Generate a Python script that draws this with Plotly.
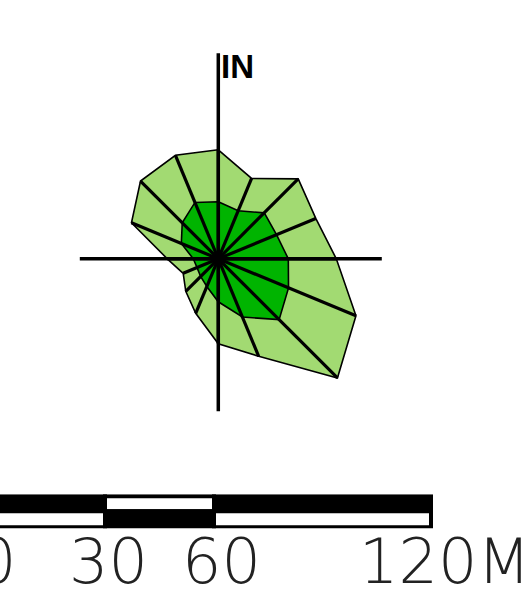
import plotly.graph_objects as go

# compass sectors, clockwise from north
directions = ["N", "NNE", "NE", "ENE", "E", "ESE", "SE", "SSE",
              "S", "SSW", "SW", "WSW", "W", "WNW", "NW", "NNW"]
outer_radius = [109, 87, 113, 105.5, 118, 149, 168.5, 105.5,
                85, 59, 46, 38, 51, 94, 110, 112]
inner_radius = [57, 52, 65, 63, 70, 76, 86, 63,
                43, 30, 25, 23, 25, 40, 51, 61]

# length of the cross arms, same units as the radii
cross_arms = {"N": 205.5, "E": 163.5, "S": 152.5, "W": 138.5}
north_label = "\u200aIN"

# scale bar (metres)
scale_breaks = [0, 30, 60, 120]
scale_labels = ["0", "30", "60", "120M"]

LIGHT = "#a2da72"
DARK = "#00b400"

fig = go.Figure()


def closed(vals):
    return list(vals) + [vals[0]]


fig.add_trace(go.Scatterpolar(
    r=closed(outer_radius), theta=closed(directions),
    mode="lines", fill="toself", fillcolor=LIGHT,
    line=dict(color="black", width=1.6), hoverinfo="skip",
))
fig.add_trace(go.Scatterpolar(
    r=closed(inner_radius), theta=closed(directions),
    mode="lines", fill="toself", fillcolor=DARK,
    line=dict(color="black", width=1.6), hoverinfo="skip",
))

spoke_r, spoke_t = [], []
for d, r in zip(directions, outer_radius):
    spoke_r += [0, r, None]
    spoke_t += [d, d, None]
fig.add_trace(go.Scatterpolar(
    r=spoke_r, theta=spoke_t, mode="lines",
    line=dict(color="black", width=3.2), hoverinfo="skip",
))

for a, b in (("N", "S"), ("W", "E")):
    fig.add_trace(go.Scatterpolar(
        r=[cross_arms[a], 0, cross_arms[b]], theta=[a, a, b], mode="lines",
        line=dict(color="black", width=3.5), hoverinfo="skip",
    ))

fig.add_trace(go.Scatterpolar(
    r=[cross_arms["N"]], theta=["N"], mode="text", text=[north_label],
    textposition="bottom right",
    textfont=dict(family="Liberation Sans", size=33, color="black", weight="bold"),
    hoverinfo="skip",
))

# scale bar: two rows of alternating cells
top_colors = ["black", "white", "black"]
bottom_colors = ["white", "black", "white"]
seg_base = scale_breaks[:-1]
seg_len = [b - a for a, b in zip(scale_breaks[:-1], scale_breaks[1:])]
fig.add_trace(go.Bar(
    orientation="h",
    y=[1] * len(seg_base) + [0] * len(seg_base),
    x=seg_len + seg_len,
    base=seg_base + seg_base,
    width=1,
    marker=dict(color=top_colors + bottom_colors,
                line=dict(color="black", width=4)),
    hoverinfo="skip",
))
# invisible carrier for the label axis
fig.add_trace(go.Scatter(
    x=scale_breaks, y=[0.5] * len(scale_breaks), xaxis="x2", yaxis="y2",
    mode="markers", marker=dict(opacity=0), hoverinfo="skip",
))

for m, lbl in zip(scale_breaks, scale_labels):
    fig.add_annotation(
        x=m, y=0.5, xref="x2", yref="y2", text=lbl, showarrow=False,
        xshift=-8,
        font=dict(family="DejaVu Sans", size=62, color="#222", weight=200),
    )

fig.update_layout(
    width=532,
    height=609,
    margin=dict(l=0, r=0, t=0, b=0),
    paper_bgcolor="white",
    plot_bgcolor="rgba(0,0,0,0)",
    showlegend=False,
    polar=dict(
        domain=dict(x=[3.3 / 532, 433.3 / 532], y=[135.2 / 609, 565.2 / 609]),
        bgcolor="rgba(0,0,0,0)",
        radialaxis=dict(range=[0, 215], visible=False),
        angularaxis=dict(
            type="category", categoryarray=directions,
            rotation=90, direction="clockwise",
            visible=False,
        ),
    ),
    xaxis=dict(
        domain=[0, 1], range=[1.02, 147.86],
        showgrid=False, zeroline=False, showticklabels=False, showline=False,
    ),
    yaxis=dict(
        domain=[0.1324, 0.1884], range=[-0.6, 1.6],
        showgrid=False, zeroline=False, showticklabels=False, showline=False,
    ),
    xaxis2=dict(
        domain=[0, 1], anchor="y2", range=[-1.257, 141.03],
        showgrid=False, zeroline=False, showticklabels=False, showline=False,
    ),
    yaxis2=dict(
        domain=[0.0148, 0.1412], range=[0, 1], anchor="x2",
        showgrid=False, zeroline=False, showticklabels=False, showline=False,
    ),
    bargap=0,
)

fig.write_html(
    "out.html",
    config={"displayModeBar": False},
    post_script="document.body.style.margin = '0';",
)
